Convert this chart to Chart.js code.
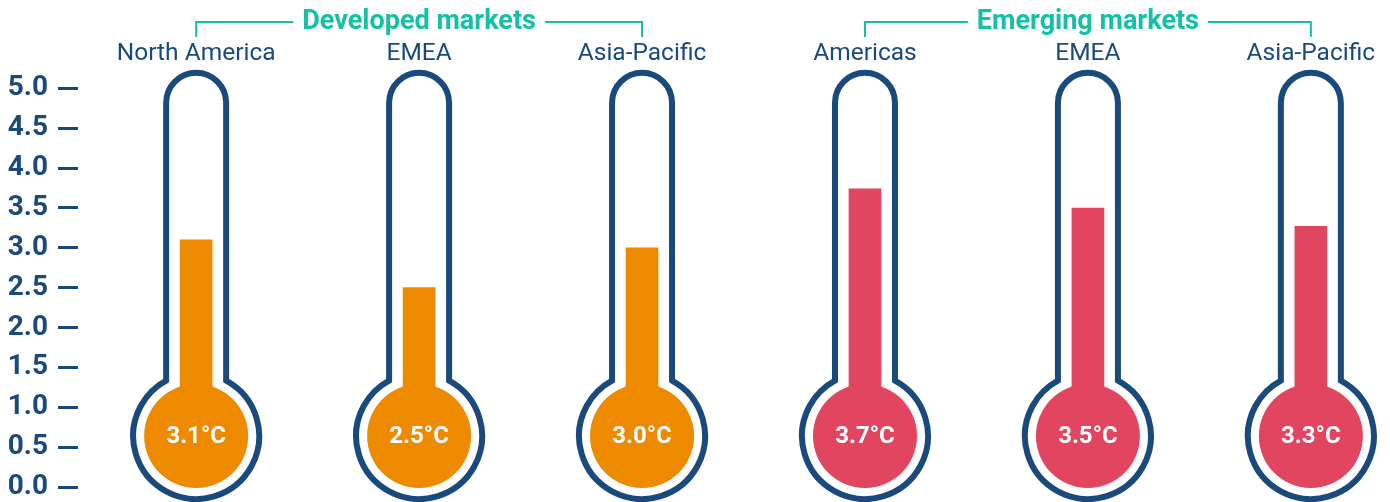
<!DOCTYPE html>
<html>
<head>
<meta charset="utf-8">
<script src="https://cdn.jsdelivr.net/npm/chart.js@4"></script>
<style>
  body { margin: 0; background: #fff; }
  #wrap { width: 1390px; height: 502px; }
</style>
</head>
<body>
<div id="wrap"><canvas id="chart" width="1390" height="502"></canvas></div>
<script>
// data
const categories = ['North America', 'EMEA', 'Asia-Pacific', 'Americas', 'EMEA', 'Asia-Pacific'];
const temps = [3.1, 2.5, 3.0, 3.74, 3.5, 3.27];
const tempLabels = ['3.1°C', '2.5°C', '3.0°C', '3.7°C', '3.5°C', '3.3°C'];
const groupNames = ['Developed markets', 'Emerging markets'];
const groupOf = [0, 0, 0, 1, 1, 1];
const yTicks = [0, 0.5, 1, 1.5, 2, 2.5, 3, 3.5, 4, 4.5, 5];

const BLUE = '#1a4a7c';
const TEAL = '#14c1a7';
const groupColors = ['#ee8a00', '#e2455f'];

// thermometer shape (tube top / bulb centre in axis units, sizes in px)
const TUBE_TOP = 4.82;
const BULB = 0.64;
const TUBE_R = 30;
const BULB_R = 63;
const FILL_R = 52;
const FONT = 'Roboto';

const thermoPlugin = {
  id: 'thermo',
  beforeDatasetsDraw(chart) {
    const { ctx, scales: { y } } = chart;
    const meta = chart.getDatasetMeta(0);
    const topY = y.getPixelForValue(TUBE_TOP);
    const bulbY = y.getPixelForValue(BULB);
    const dy = Math.sqrt(BULB_R * BULB_R - TUBE_R * TUBE_R);
    meta.data.forEach(bar => {
      const x = bar.x;
      ctx.save();
      ctx.beginPath();
      ctx.arc(x, topY, TUBE_R, Math.PI, 0);
      ctx.lineTo(x + TUBE_R, bulbY - dy);
      ctx.arc(x, bulbY, BULB_R, Math.atan2(-dy, TUBE_R), Math.atan2(-dy, -TUBE_R));
      ctx.closePath();
      ctx.fillStyle = '#fff';
      ctx.fill();
      ctx.lineWidth = 6;
      ctx.strokeStyle = BLUE;
      ctx.stroke();
      ctx.restore();
    });
  },
  afterDatasetsDraw(chart) {
    const { ctx, scales: { y } } = chart;
    const meta = chart.getDatasetMeta(0);
    const bulbY = y.getPixelForValue(BULB);
    meta.data.forEach((bar, i) => {
      ctx.save();
      ctx.beginPath();
      ctx.arc(bar.x, bulbY, FILL_R, 0, Math.PI * 2);
      ctx.fillStyle = groupColors[groupOf[i]];
      ctx.fill();
      ctx.fillStyle = '#fff';
      ctx.font = 'bold 24px ' + FONT;
      ctx.textAlign = 'center';
      ctx.textBaseline = 'middle';
      ctx.fillText(tempLabels[i], bar.x, bulbY + 1);
      ctx.restore();
    });

    // group brackets above the category names
    groupNames.forEach((name, g) => {
      const idx = groupOf.map((v, i) => v === g ? i : -1).filter(i => i >= 0);
      const x0 = meta.data[idx[0]].x;
      const x1 = meta.data[idx[idx.length - 1]].x;
      const mid = (x0 + x1) / 2;
      const lineY = 22;
      ctx.save();
      ctx.font = 'bold 27px ' + FONT;
      const w = ctx.measureText(name).width;
      ctx.strokeStyle = TEAL;
      ctx.lineWidth = 2;
      ctx.beginPath();
      ctx.moveTo(x0, 37);
      ctx.lineTo(x0, lineY);
      ctx.lineTo(mid - w / 2 - 9, lineY);
      ctx.moveTo(mid + w / 2 + 9, lineY);
      ctx.lineTo(x1, lineY);
      ctx.lineTo(x1, 37);
      ctx.stroke();
      ctx.fillStyle = TEAL;
      ctx.textAlign = 'center';
      ctx.textBaseline = 'middle';
      ctx.fillText(name, mid, lineY);
      ctx.restore();
    });
  }
};

const noPad = s => { s.paddingTop = 0; s.paddingBottom = 0; s.paddingLeft = 0; s.paddingRight = 0; };

new Chart(document.getElementById('chart'), {
  type: 'bar',
  data: {
    datasets: [{
      data: temps.map((v, i) => ({ x: i, y: v })),
      backgroundColor: groupOf.map(g => groupColors[g]),
      base: BULB,
      barThickness: 32,
      borderWidth: 0,
    }]
  },
  options: {
    responsive: false,
    animation: false,
    layout: { padding: { top: 19, left: 7, right: 0, bottom: 15 } },
    plugins: {
      legend: { display: false },
      tooltip: { enabled: false }
    },
    scales: {
      x: {
        type: 'linear',
        position: 'top',
        offset: false,
        min: -0.53,
        max: 5.355,
        afterBuildTicks: s => { s.ticks = categories.map((c, i) => ({ value: i })); },
        afterFit: noPad,
        grid: { display: false, drawTicks: false, offset: false },
        border: { display: false },
        ticks: {
          autoSkip: false,
          maxRotation: 0,
          minRotation: 0,
          padding: 20,
          color: BLUE,
          font: { family: FONT, size: 24.5 },
          callback: v => categories[v]
        }
      },
      y: {
        min: 0,
        max: 5,
        afterBuildTicks: s => { s.ticks = yTicks.map(v => ({ value: v })); },
        afterFit: s => { noPad(s); s.width = 71; },
        grid: {
          drawOnChartArea: false,
          drawTicks: true,
          tickLength: 20,
          tickWidth: 3,
          tickColor: BLUE
        },
        border: { display: false },
        ticks: {
          padding: 10,
          color: BLUE,
          font: { family: FONT, size: 28, weight: 'bold', lineHeight: 1 },
          callback: v => v.toFixed(1)
        }
      }
    }
  },
  plugins: [thermoPlugin]
});
</script>
</body>
</html>
